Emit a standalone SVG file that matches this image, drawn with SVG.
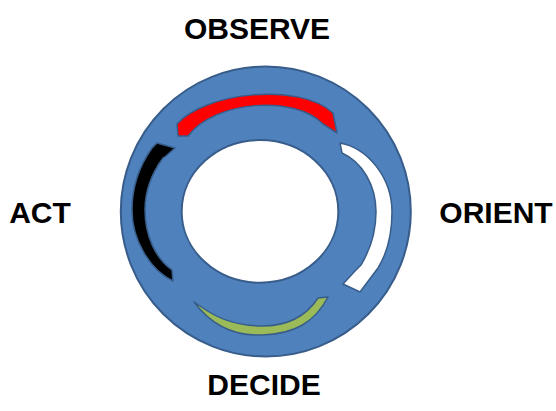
<svg xmlns="http://www.w3.org/2000/svg" width="556" height="411" viewBox="0 0 556 411">
<style>
.lbl{font-family:"Liberation Sans",Arial,sans-serif;font-weight:bold;font-size:30px;fill:#000;text-anchor:middle}
.ring{fill:#4F81BD;stroke:#385D8A;stroke-width:2;fill-rule:evenodd}
.arr{stroke:#385D8A;stroke-width:1.5;stroke-linejoin:round}
</style>
<rect width="556" height="411" fill="#fff"/>
<g id="ring">
<path class="ring" d="M120.8,211.5 A145,145 0 1 0 410.8,211.5 A145,145 0 1 0 120.8,211.5 Z M181.7,211.4 A78.3,71.3 0 1 0 338.3,211.4 A78.3,71.3 0 1 0 181.7,211.4 Z"/>
</g>
<g id="connectors">
<path id="observe-orient-arrow" class="arr" fill="#FF0000" d="M177,124 C205,92 300,82 333,113 L337,133 L323,124 C295,95 215,100 188,136 L178,136 Z"/>
<path id="orient-decide-arrow" class="arr" fill="#FFFFFF" d="M340,143 C368,148 392,178 392,212 C392,236 386,255 378,268 L360,292 L343,284 L355,271 L361,265 C370,250 376,232 376,212 C376,185 362,162 342,153 Z"/>
<path id="decide-act-arrow" class="arr" fill="#9BBB59" d="M194,302 C215,330 240,336 262,335 C295,334 315,322 328,297 L318,298 C305,318 285,326 262,326 C240,326 220,320 203,308 Z"/>
<path id="act-observe-arrow" class="arr" fill="#000000" d="M173,281 C150,270 132,240 132,210 C132,185 140,165 152,148 L157,143 L175,148 L166,156 L163,158 C152,173 145,190 145,210 C145,235 155,258 172,270 Z"/>
</g>
<g id="observe"><text class="lbl" x="257" y="39">OBSERVE</text></g>
<g id="orient"><text class="lbl" x="496" y="223">ORIENT</text></g>
<g id="decide"><text class="lbl" x="264" y="395">DECIDE</text></g>
<g id="act"><text class="lbl" x="40" y="223">ACT</text></g>
</svg>
